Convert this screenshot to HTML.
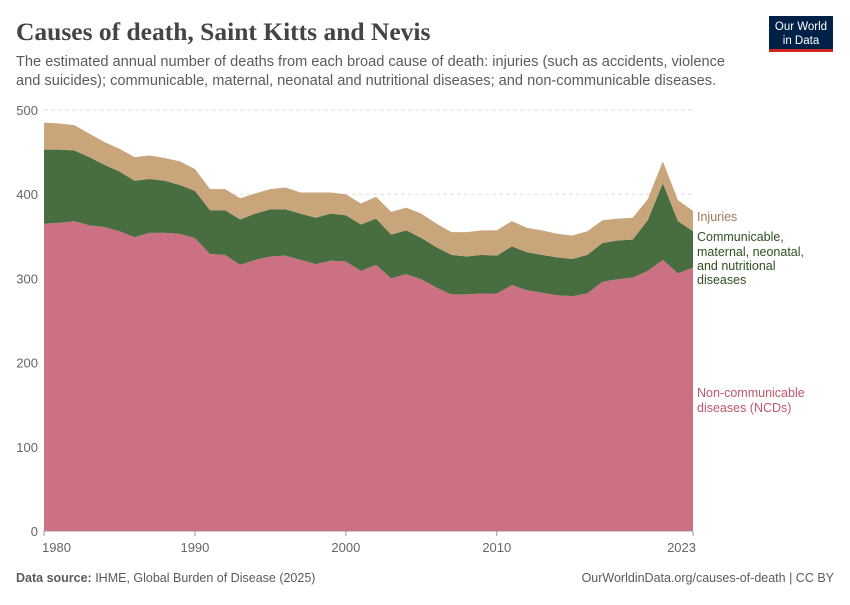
<!DOCTYPE html>
<html><head><meta charset="utf-8"><style>
body{margin:0;background:#fff;width:850px;height:600px;overflow:hidden;font-family:"Liberation Sans",sans-serif}
</style></head><body>
<svg width="850" height="600" xmlns="http://www.w3.org/2000/svg">
<text x="16" y="40" font-family="Liberation Serif,serif" font-size="25.5" font-weight="bold" fill="#444">Causes of death, Saint Kitts and Nevis</text>
<text font-size="14.6" fill="#5b5b5b"><tspan x="16" y="66">The estimated annual number of deaths from each broad cause of death: injuries (such as accidents, violence</tspan><tspan x="16" y="85">and suicides); communicable, maternal, neonatal and nutritional diseases; and non-communicable diseases.</tspan></text>
<g><rect x="769" y="16" width="64" height="34" fill="#002147"/><rect x="769" y="49" width="64" height="3" fill="#ce261e"/>
<text x="801" y="30" font-size="11.5" fill="#fff" text-anchor="middle">Our World</text><text x="801" y="44" font-size="11.5" fill="#fff" text-anchor="middle">in Data</text></g>
<g id="grid"></g><g id="areas"></g><g id="axes"></g>
<text x="697" y="221" font-size="12.5" fill="#a2785a">Injuries</text>
<text font-size="12.5" fill="#2f5020"><tspan x="697" y="241">Communicable,</tspan><tspan x="697" y="256">maternal, neonatal,</tspan><tspan x="697" y="270">and nutritional</tspan><tspan x="697" y="284">diseases</tspan></text>
<text font-size="12.5" fill="#c0566a"><tspan x="697" y="397">Non-communicable</tspan><tspan x="697" y="412">diseases (NCDs)</tspan></text>
<text x="16" y="582" font-size="12.5" fill="#5b5b5b"><tspan font-weight="bold">Data source:</tspan> IHME, Global Burden of Disease (2025)</text>
<text x="834" y="582" font-size="12.5" fill="#5b5b5b" text-anchor="end">OurWorldinData.org/causes-of-death | CC BY</text>
</svg>
<script>
const years=[1980,1981,1982,1983,1984,1985,1986,1987,1988,1989,1990,1991,1992,1993,1994,1995,1996,1997,1998,1999,2000,2001,2002,2003,2004,2005,2006,2007,2008,2009,2010,2011,2012,2013,2014,2015,2016,2017,2018,2019,2020,2021,2022,2023];
const ncd=[365,366,368,363,361,356,349,354,354,353,348,329,328,316,322,326,327,322,317,321,320,309,316,300,305,299,289,281,281,282,282,292,286,283,280,279,282,296,299,301,309,322,306,313];
const comm=[88,87,84,81,74,71,67,64,62,58,56,52,53,54,55,56,55,55,55,56,55,55,55,52,52,49,48,47,45,46,45,46,45,45,45,44,46,46,46,45,60,91,62,43];
const inj=[32,31,30,28,27,27,28,28,27,28,26,25,25,25,24,24,26,25,30,25,25,25,26,27,27,29,28,27,29,29,30,30,29,29,28,28,28,27,26,26,25,26,25,24];
const yTicks=[0,100,200,300,400,500];
const xTicks=[1980,1990,2000,2010,2023];
const NS="http://www.w3.org/2000/svg";
const X=y=>44+(y-1980)*(693-44)/43, Y=v=>531-v*0.842;
function mk(t,a,p){const e=document.createElementNS(NS,t);for(const k in a)e.setAttribute(k,a[k]);document.getElementById(p).appendChild(e);return e;}
yTicks.forEach(v=>{
 const l=mk('line',{x1:44,x2:693,y1:Y(v),y2:Y(v),stroke:v?'#ddd':'#999','stroke-dasharray':v?'4,3':'none'},'grid');
 
 
 const t=mk('text',{x:38,y:Y(v)+5,'font-size':13,fill:'#666','text-anchor':'end'},'axes');t.textContent=v;
 
 
});
xTicks.forEach(v=>{
 const t=mk('text',{x:X(v),y:552,'font-size':13,fill:'#666','text-anchor':v==1980?'start':(v==2023?'end':'middle')},'axes');t.textContent=v;
 if(v==1980)t.setAttribute('x',X(v)-2);
 if(v==2023)t.setAttribute('x',X(v)+3);
 
 
 mk('line',{x1:X(v),x2:X(v),y1:531,y2:536,stroke:'#999'},'axes');
});
function area(lo,hi,col,name){
 let d='M'+years.map((y,i)=>X(y)+','+Y(hi[i])).join('L');
 for(let i=years.length-1;i>=0;i--)d+='L'+X(years[i])+','+Y(lo[i]);
 const p=mk('path',{d:d+'Z',fill:col},'areas');
 
 
}
const zero=years.map(()=>0), c1=ncd.slice(), c2=ncd.map((v,i)=>v+comm[i]), c3=c2.map((v,i)=>v+inj[i]);
area(zero,c1,'#cc7183','area-ncd');
area(c1,c2,'#486d40','area-communicable');
area(c2,c3,'#c8a57b','area-injuries');
</script>
</body></html>
